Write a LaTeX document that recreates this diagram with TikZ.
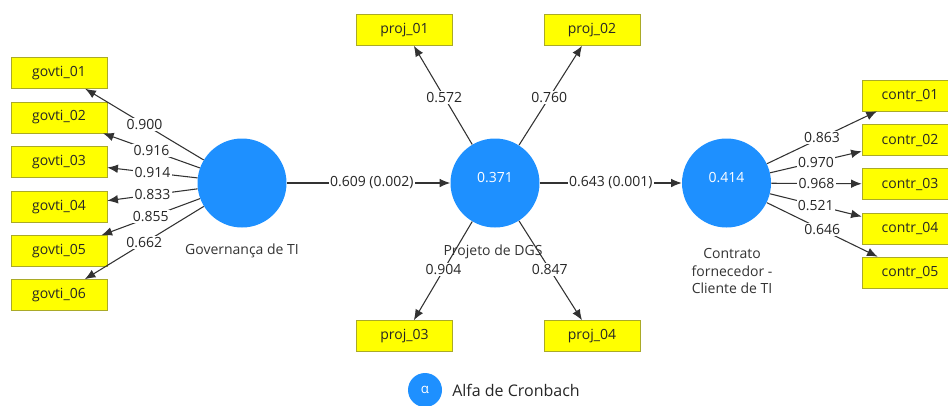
\documentclass[tikz,border=0pt]{standalone}
\usepackage{fontspec}
\setmainfont{Open Sans}
\usetikzlibrary{arrows.meta}
\definecolor{lvblue}{RGB}{30,144,255}
\definecolor{mvyellow}{RGB}{255,255,0}
\definecolor{mvborder}{RGB}{170,170,40}
\definecolor{edgegray}{RGB}{50,50,50}
\begin{document}
\begin{tikzpicture}[x=0.75pt,y=-0.75pt,
  mv/.style={draw=mvborder,fill=mvyellow,minimum width=72pt,minimum height=23.25pt,inner sep=0pt,font=\fontsize{10.5}{12}\selectfont,text=black!85},
  lv/.style={circle,fill=lvblue,minimum size=66.75pt,inner sep=0pt,text=white,font=\fontsize{10.5}{12}\selectfont},
  lvname/.style={font=\fontsize{10.5}{13}\selectfont,text=black!80,align=center},
  ld/.style={draw=edgegray,line width=0.8pt,-{Latex[length=8pt,width=6.5pt]}},
  val/.style={fill=white,inner sep=1pt,font=\fontsize{10.5}{12}\selectfont,text=black!85}
]
\useasboundingbox (0,0) rectangle (948,405);
\clip (0,0) rectangle (948,405);
% indicators
\node[mv] (g1) at (59,73) {govti\_01};
\node[mv] (g2) at (59,117.5) {govti\_02};
\node[mv] (g3) at (59,162) {govti\_03};
\node[mv] (g4) at (59,207) {govti\_04};
\node[mv] (g5) at (59,251) {govti\_05};
\node[mv] (g6) at (59,295) {govti\_06};
\node[mv] (p1) at (404.5,30) {proj\_01};
\node[mv] (p2) at (592,30) {proj\_02};
\node[mv] (p3) at (404.5,336) {proj\_03};
\node[mv] (p4) at (592,336) {proj\_04};
\node[mv] (c1) at (910,95.5) {contr\_01};
\node[mv] (c2) at (910,140) {contr\_02};
\node[mv] (c3) at (910,184) {contr\_03};
\node[mv] (c4) at (910,228.5) {contr\_04};
\node[mv] (c5) at (910,272.5) {contr\_05};
% latent variables
\node[lv] (gov) at (242,183) {};
\node[lv] (dgs) at (495,183) {};
\node[lv] (con) at (726.5,183) {};
\node[text=white,font=\fontsize{10.5}{12}\selectfont] (dgsv) at (495,178) {0.371};
\node[text=white,font=\fontsize{10.5}{12}\selectfont] (conv) at (726.5,178) {0.414};
\node[lvname] (govn) at (242,251) {Governança de TI};
\node[lvname] (dgsn) at (493,252) {Projeto de DGS};
\node[lvname] (conn) at (732,271) {Contrato\\fornecedor -\\Cliente de TI};
% loadings
\draw[ld] (gov) -- node[val,pos=0.5] {0.900} (g1);
\draw[ld] (gov) -- node[val,pos=0.5] {0.916} (g2);
\draw[ld] (gov) -- node[val,pos=0.5] {0.914} (g3);
\draw[ld] (gov) -- node[val,pos=0.5] {0.833} (g4);
\draw[ld] (gov) -- node[val,pos=0.5] {0.855} (g5);
\draw[ld] (gov) -- node[val,pos=0.5] {0.662} (g6);
\draw[ld] (dgs) -- node[val,pos=0.48] {0.572} (p1);
\draw[ld] (dgs) -- node[val,pos=0.48] {0.760} (p2);
\draw[ld] (dgs) -- node[val,pos=0.49] {0.904} (p3);
\draw[ld] (dgs) -- node[val,pos=0.49] {0.847} (p4);
\draw[ld] (con) -- node[val,pos=0.5] {0.863} (c1);
\draw[ld] (con) -- node[val,pos=0.5] {0.970} (c2);
\draw[ld] (con) -- node[val,pos=0.5] {0.968} (c3);
\draw[ld] (con) -- node[val,pos=0.5] {0.521} (c4);
\draw[ld] (con) -- node[val,pos=0.5] {0.646} (c5);
% paths
\draw[ld] (gov) -- node[val,pos=0.52] {0.609 (0.002)} (dgs);
\draw[ld] (dgs) -- node[val,pos=0.5] {0.643 (0.001)} (con);
% legend
\node[circle,fill=lvblue,minimum size=25.5pt,inner sep=0pt,text=white,font=\fontsize{10}{11}\selectfont] (leg) at (425,390) {α};
\node[anchor=west,font=\fontsize{12}{14}\selectfont,text=black!85,inner sep=0pt] (legt) at (452,390) {Alfa de Cronbach};
\end{tikzpicture}
\end{document}
